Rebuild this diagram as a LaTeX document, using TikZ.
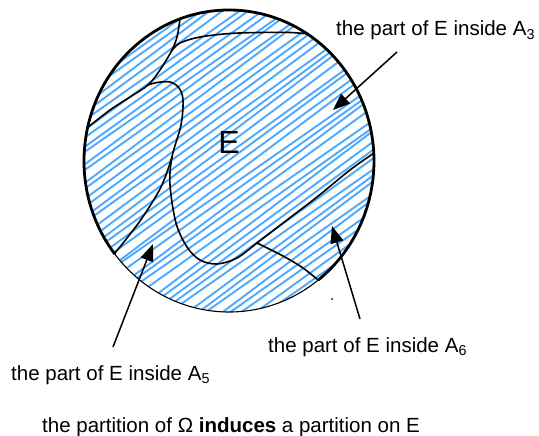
\documentclass[tikz,border=0pt]{standalone}
\usepackage{fontspec}
\setmainfont{Liberation Sans}
\usetikzlibrary{arrows.meta,calc}
\definecolor{hatchblue}{RGB}{77,168,255}
\begin{document}
\begin{tikzpicture}[x=1pt,y=-1pt,
  lbl/.style={font=\fontsize{20.5}{24}\selectfont, inner sep=0pt},
  part/.style={line width=1.6pt, line join=round, line cap=round},
  ptr/.style={line width=1.5pt, -{Triangle[length=17pt,width=13pt]}},
  hatch/.style={hatchblue, line width=1.9pt}]
\useasboundingbox (0,0) rectangle (539,436);
\coordinate (c) at (229,161);
% hatching
\pgfmathsetseed{5}
\begin{scope}
  \clip (c) ellipse [x radius=145pt, y radius=151pt];
  \foreach \i in {-26,...,26}{
    \pgfmathsetmacro\off{\i*6.9+rand*0.9}
    \pgfmathsetmacro\ang{36+rand*1.2}
    \pgfmathsetmacro\px{229+\off*sin(\ang)}
    \pgfmathsetmacro\py{161+\off*cos(\ang)}
    \pgfmathsetmacro\dx{230*cos(\ang)}
    \pgfmathsetmacro\dy{230*sin(\ang)}
    \draw[hatch] ({\px-\dx},{\py+\dy}) -- ({\px+\dx},{\py-\dy});
  }
\end{scope}
% outline of Omega / E
\draw[line width=1.1pt] (c) ellipse [x radius=145pt, y radius=151pt];
\draw[line width=2.8pt] ($(c)+(218.1:145pt and 151pt)$) arc[start angle=218.1, end angle=-52.1, x radius=145pt, y radius=151pt];
% partition boundaries
\draw[part] plot[smooth, tension=0.55] coordinates {(180,19) (177,37) (171.5,51) (160,70) (148,85) (130,97) (110,110) (87,128)};
\draw[part] plot[smooth, tension=0.55] coordinates {(171.5,51) (180,43) (200,37) (230,33.5) (260,32.5) (290,32.5) (308,34)};
\draw[part] plot[smooth, tension=0.55] coordinates {(148,85) (157,82.5) (170,82) (179,88) (183,100) (181,125) (172,157) (170,185) (176,223) (187,247) (200,260) (217,264) (237,258) (257,243) (283,223) (317,197) (350,170) (374,153)};
\draw[part] plot[smooth, tension=0.55] coordinates {(172,157) (161,187) (140,221) (115,253)};
\draw[part] plot[smooth, tension=0.55] coordinates {(257,243) (283,256) (303,268) (318,280)};
\fill (332,299) circle (1pt);
% labels
\node[font=\fontsize{32}{36}\selectfont, inner sep=0pt] (E) at (229,142) {E};
\node[lbl, anchor=base west] (l3) at (336,36) {the part of E inside A\textsubscript{3}};
\node[lbl, anchor=base west] (l5) at (11,380) {the part of E inside A\textsubscript{5}};
\node[lbl, anchor=base west] (l6) at (268,352) {the part of E inside A\textsubscript{6}};
\node[lbl, anchor=base west] (cap) at (42,432) {the partition of Ω \textbf{induces} a partition on E};
% arrows
\coordinate (t3) at (397,52);
\coordinate (h3) at (333,110);
\coordinate (t5) at (113,347);
\coordinate (h5) at (153,244);
\coordinate (t6) at (360,319);
\coordinate (h6) at (332,226);
\draw[ptr] (t3) -- (h3);
\draw[ptr] (t5) -- (h5);
\draw[ptr] (t6) -- (h6);
\end{tikzpicture}
\end{document}
